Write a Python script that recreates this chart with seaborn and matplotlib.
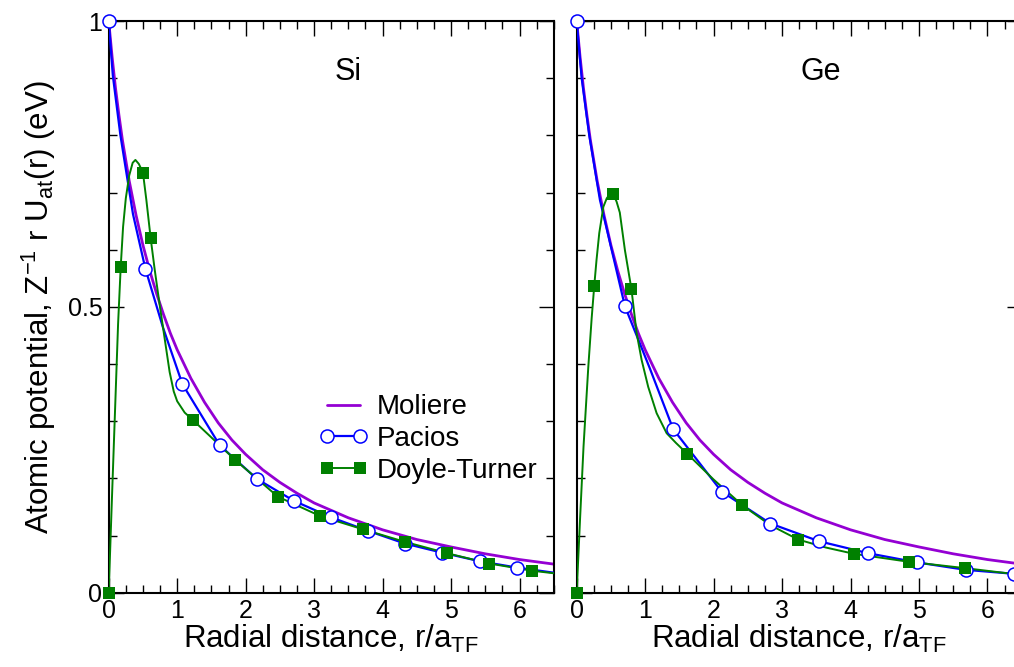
import matplotlib
matplotlib.use("Agg")
import matplotlib.pyplot as plt
from matplotlib.lines import Line2D
from matplotlib.legend_handler import HandlerLine2D
from matplotlib.ticker import MultipleLocator
import seaborn as sns

# Moliere curve (same in reduced units for both panels)
moliere_x = [0, 0.05, 0.1, 0.15, 0.2, 0.3, 0.4, 0.5, 0.6, 0.7, 0.8, 0.9, 1.0,
             1.2, 1.4, 1.6, 1.8, 2.0, 2.25, 2.5, 2.75, 3.0, 3.5, 4.0, 4.5,
             5.0, 5.5, 6.0, 6.5]
moliere_y = [1.0, 0.937, 0.882, 0.835, 0.792, 0.720, 0.660, 0.608, 0.563,
             0.523, 0.487, 0.454, 0.425, 0.375, 0.333, 0.297, 0.267, 0.242,
             0.215, 0.193, 0.174, 0.157, 0.131, 0.110, 0.093, 0.080, 0.068,
             0.058, 0.050]

# Si - Pacios
si_pacios_line_x = [0, 0.06, 0.17, 0.355, 0.535, 0.79, 1.076, 1.62, 2.165,
                    2.70, 3.245, 3.79, 4.325, 4.87, 5.42, 5.96, 6.5]
si_pacios_line_y = [1.0, 0.905, 0.801, 0.662, 0.567, 0.465, 0.365, 0.258,
                    0.199, 0.161, 0.132, 0.108, 0.086, 0.070, 0.055, 0.044,
                    0.035]
si_pacios_pts_x = [0, 0.535, 1.076, 1.62, 2.165, 2.70, 3.245, 3.79, 4.325,
                   4.87, 5.42, 5.96]
si_pacios_pts_y = [1.0, 0.567, 0.365, 0.258, 0.199, 0.161, 0.132, 0.108,
                   0.086, 0.070, 0.055, 0.044]

# Si - Doyle-Turner
si_dt_line_x = [0, 0.04, 0.09, 0.137, 0.175, 0.21, 0.25, 0.30, 0.35, 0.39,
                0.44, 0.50, 0.55, 0.613, 0.672, 0.745, 0.818, 0.89, 0.95, 1.0,
                1.11, 1.23, 1.85, 2.47, 3.09, 3.71, 4.325, 4.945, 5.56, 6.18,
                6.5]
si_dt_line_y = [0, 0.14, 0.31, 0.47, 0.569, 0.64, 0.69, 0.73, 0.752, 0.757,
                0.75, 0.735, 0.687, 0.620, 0.565, 0.503, 0.444, 0.386, 0.352,
                0.335, 0.315, 0.302, 0.232, 0.168, 0.134, 0.111, 0.089, 0.069,
                0.051, 0.0385, 0.034]
si_dt_pts_x = [0, 0.175, 0.50, 0.613, 1.23, 1.85, 2.47, 3.09, 3.71, 4.325,
               4.945, 5.56, 6.18]
si_dt_pts_y = [0, 0.569, 0.735, 0.620, 0.302, 0.232, 0.168, 0.134, 0.111,
               0.089, 0.069, 0.051, 0.0385]

# Ge - Pacios
ge_pacios_line_x = [0, 0.073, 0.184, 0.34, 0.705, 1.07, 1.41, 2.117, 2.83,
                    3.54, 4.26, 4.97, 5.68, 6.39, 6.5]
ge_pacios_line_y = [1.0, 0.90, 0.80, 0.687, 0.501, 0.392, 0.286, 0.177,
                    0.121, 0.090, 0.069, 0.053, 0.040, 0.033, 0.032]
ge_pacios_pts_x = [0, 0.705, 1.41, 2.117, 2.83, 3.54, 4.26, 4.97, 5.68, 6.39]
ge_pacios_pts_y = [1.0, 0.501, 0.286, 0.177, 0.121, 0.090, 0.069, 0.053,
                   0.040, 0.033]

# Ge - Doyle-Turner
ge_dt_line_x = [0, 0.05, 0.10, 0.17, 0.219, 0.257, 0.29, 0.33, 0.39, 0.44,
                0.486, 0.535, 0.583, 0.63, 0.705, 0.80, 0.876, 0.949, 1.045,
                1.168, 1.314, 1.45, 1.615, 2.0, 2.42, 2.83, 3.235, 3.64, 4.05,
                4.855, 5.67, 6.5]
ge_dt_line_y = [0, 0.13, 0.255, 0.395, 0.48, 0.537, 0.582, 0.629, 0.675,
                0.69, 0.697, 0.697, 0.684, 0.665, 0.599, 0.531, 0.454, 0.407,
                0.36, 0.314, 0.279, 0.262, 0.243, 0.198, 0.153, 0.118, 0.093,
                0.079, 0.068, 0.054, 0.043, 0.031]
ge_dt_pts_x = [0, 0.257, 0.535, 0.80, 1.615, 2.42, 3.235, 4.05, 4.855, 5.67]
ge_dt_pts_y = [0, 0.537, 0.697, 0.532, 0.243, 0.153, 0.093, 0.068, 0.054,
               0.043]

ytick_values = [0, 0.5, 1]
ytick_labels = ["0", "0.5", "1"]
xtick_values = [0, 1, 2, 3, 4, 5, 6]
series_names = ["Moliere", "Pacios", "Doyle-Turner"]

sns.set_style("white")
plt.rcParams["font.family"] = ["Liberation Sans", "DejaVu Sans"]
plt.rcParams["mathtext.fontset"] = "custom"
plt.rcParams["mathtext.rm"] = "Liberation Sans"
plt.rcParams["mathtext.it"] = "Liberation Sans:italic"
plt.rcParams["text.color"] = "black"
plt.rcParams["axes.labelcolor"] = "black"
plt.rcParams["xtick.color"] = "black"
plt.rcParams["ytick.color"] = "black"

PURPLE = "#9400d3"
BLUE = "#0000ff"
GREEN = "#008000"

fig = plt.figure(figsize=(10.14, 6.67), dpi=100)
ax_si = fig.add_axes([0.1072, 0.1114, 0.4389, 0.8571])
ax_ge = fig.add_axes([0.5687, 0.1114, 0.4389, 0.8571])

panels = [
    (ax_si, "Si", 3.49, si_pacios_line_x, si_pacios_line_y, si_pacios_pts_x,
     si_pacios_pts_y, si_dt_line_x, si_dt_line_y, si_dt_pts_x, si_dt_pts_y),
    (ax_ge, "Ge", 3.56, ge_pacios_line_x, ge_pacios_line_y, ge_pacios_pts_x,
     ge_pacios_pts_y, ge_dt_line_x, ge_dt_line_y, ge_dt_pts_x, ge_dt_pts_y),
]

for (ax, name, name_x, p_lx, p_ly, p_px, p_py,
     d_lx, d_ly, d_px, d_py) in panels:

    sns.lineplot(x=moliere_x, y=moliere_y, ax=ax, color=PURPLE,
                 linewidth=2.0, sort=False, estimator=None, zorder=2)
    sns.lineplot(x=p_lx, y=p_ly, ax=ax, color=BLUE, linewidth=1.6,
                 sort=False, estimator=None, zorder=3)
    sns.lineplot(x=d_lx, y=d_ly, ax=ax, color=GREEN, linewidth=1.4,
                 sort=False, estimator=None, zorder=4)

    sns.scatterplot(x=p_px, y=p_py, ax=ax, marker="o", s=88, color="white",
                    edgecolor=BLUE, linewidth=1.1, clip_on=False, zorder=5)
    sns.scatterplot(x=d_px, y=d_py, ax=ax, marker="s", s=64, color=GREEN,
                    edgecolor=GREEN, linewidth=0, clip_on=False, zorder=6)

    ax.set_xlim(0, 6.5)
    ax.set_ylim(0, 1)
    ax.set_xticks(xtick_values)
    ax.xaxis.set_minor_locator(MultipleLocator(0.25))
    ax.yaxis.set_minor_locator(MultipleLocator(0.1))
    ax.set_yticks(ytick_values)

    ax.tick_params(which="both", direction="in", bottom=True, top=True,
                   left=True, right=True, width=1.0, color="black",
                   labelsize=18, pad=4.5)
    ax.tick_params(which="major", length=11)
    ax.tick_params(which="minor", length=5.5)

    for spine in ax.spines.values():
        spine.set_linewidth(1.5)
        spine.set_color("black")

    ax.set_xlabel(r"Radial distance, r/a$_{\mathrm{TF}}$", fontsize=22.5,
                  labelpad=0)
    ax.text(name_x, 0.91, name, fontsize=22, ha="center", va="center")

ax_si.set_yticklabels(ytick_labels)
ax_ge.set_yticklabels([])
ax_ge.set_ylabel("")
ax_si.set_ylabel(r"Atomic potential, Z$^{\mathrm{-1}}$ r U$_{\mathrm{at}}$(r) (eV)",
                 fontsize=22.5, labelpad=7)

handles = [
    Line2D([], [], color=PURPLE, linewidth=2.0),
    Line2D([], [], color=BLUE, linewidth=1.6, marker="o", markersize=9.4,
           markerfacecolor="white", markeredgecolor=BLUE,
           markeredgewidth=1.1),
    Line2D([], [], color=GREEN, linewidth=1.4, marker="s", markersize=8,
           markerfacecolor=GREEN, markeredgewidth=0),
]
ax_si.legend(handles, series_names, loc="upper left",
             bbox_to_anchor=(0.491, 0.3467), frameon=False, fontsize=20,
             numpoints=2, handlelength=1.19, handletextpad=0.61,
             labelspacing=0.2, borderpad=0, borderaxespad=0,
             handler_map={Line2D: HandlerLine2D(marker_pad=0, numpoints=2)})

fig.savefig("out.png", dpi=100)
